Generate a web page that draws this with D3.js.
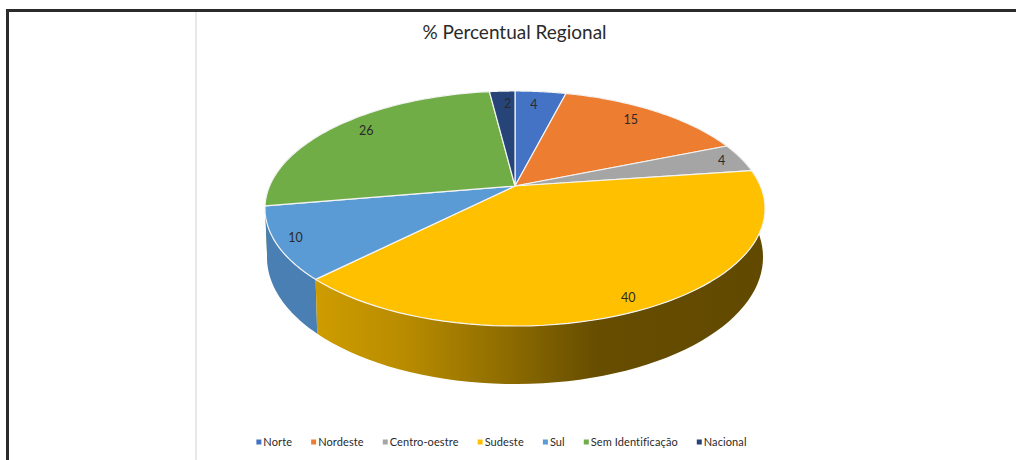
<!DOCTYPE html>
<html>
<head>
<meta charset="utf-8">
<script src="https://cdn.jsdelivr.net/npm/d3@7"></script>
<style>
  html, body { margin: 0; padding: 0; background: #fff; }
  svg { display: block; }
  text { font-family: Lato, sans-serif; fill: #2a2a2a; }
</style>
</head>
<body>
<svg id="chart" width="1016" height="460"></svg>
<script>
const regions = ["Norte", "Nordeste", "Centro-oestre", "Sudeste", "Sul", "Sem Identificação", "Nacional"];
const shares = [4, 15, 4, 40, 10, 26, 2];
const topColors = ["#4472C4", "#ED7D31", "#A5A5A5", "#FFC000", "#5B9BD5", "#70AD47", "#264478"];
const sideColors = ["#3a62a8", "#cc6b2a", "#8e8e8e", "url(#sudesteSide)", "#4a7fb3", "#609539", "#203a67"];
// Hand placement of each value label relative to its slice's mid-radius point
const labelNudge = [[-4, 4], [-10, 1], [7, 0], [-1, 7], [-12, 2], [9, -1], [4, 3]];

const svg = d3.select("#chart");

// Page frame and the faint sheet gridline
svg.append("rect").attr("x", 6).attr("y", 9).attr("width", 1010).attr("height", 3).attr("fill", "#2b2b2b");
svg.append("rect").attr("x", 6).attr("y", 9).attr("width", 3).attr("height", 451).attr("fill", "#2b2b2b");
svg.append("rect").attr("x", 195).attr("y", 12).attr("width", 2).attr("height", 448).attr("fill", "#e8e8e8");

svg.append("text").attr("x", 514.5).attr("y", 39).attr("text-anchor", "middle")
  .style("font-size", "19px").attr("fill", "#2f3440").text("% Percentual Regional");

// Tilted pie: a circle on a plane seen in perspective
const cx = 515, cy = 186, halfWidth = 245.4, halfDepth = 113.2, persp = 0.1915;
const thickness = 46.9, lowerScale = 0.992;

function project(angle, r, lower) {
  const u = Math.sin(angle) * r, v = Math.cos(angle) * r;
  const w = 1 + persp * v;
  const s = lower ? lowerScale : 1;
  return [cx + s * halfWidth * u / w, cy - halfDepth * v / w + (lower ? thickness / w : 0)];
}

const slices = d3.pie().sort(null).value(d => d)(shares);
const line = d3.line();
const arcSteps = (a, b) => d3.range(0, 61).map(i => a + (b - a) * i / 60);

const defs = svg.append("defs");
const grad = defs.append("linearGradient").attr("id", "sudesteSide")
  .attr("gradientUnits", "userSpaceOnUse").attr("x1", 313).attr("x2", 765).attr("y1", 0).attr("y2", 0);
[[0, "#cf9d00"], [0.2, "#b98c00"], [0.42, "#8f6d00"], [0.63, "#664d00"], [1, "#614900"]]
  .forEach(([o, c]) => grad.append("stop").attr("offset", o).attr("stop-color", c));

// Outer wall, drawn back to front
const sideOrder = [0, 1, 2, 6, 5, 4, 3];
svg.append("g").selectAll("path").data(sideOrder.map(i => ({ s: slices[i], i }))).join("path")
  .attr("d", ({ s }) => {
    const a = arcSteps(s.startAngle, s.endAngle);
    return line([...a.map(t => project(t, 1, false)), ...a.reverse().map(t => project(t, 1, true))]) + "Z";
  })
  .attr("fill", d => sideColors[d.i]);

// Top face
svg.append("g").selectAll("path").data(slices).join("path")
  .attr("d", s => line([[cx, cy], ...arcSteps(s.startAngle, s.endAngle).map(t => project(t, 1, false))]) + "Z")
  .attr("fill", (s, i) => topColors[i])
  .attr("stroke", "#f4f4f4").attr("stroke-width", 1.2).attr("stroke-linejoin", "round");

// Value labels
svg.append("g").selectAll("text").data(slices).join("text")
  .attr("x", (s, i) => project((s.startAngle + s.endAngle) / 2, 0.88, false)[0] + labelNudge[i][0])
  .attr("y", (s, i) => project((s.startAngle + s.endAngle) / 2, 0.88, false)[1] + 4 + labelNudge[i][1])
  .attr("text-anchor", "middle").style("font-size", "12.5px")
  .text(s => s.value);

// Legend, laid out left to right and centred under the pie
const legend = svg.append("g");
const items = legend.selectAll("g").data(regions).join("g");
items.append("rect").attr("width", 5).attr("height", 5).attr("y", -2.5)
  .attr("fill", (d, i) => topColors[i]);
items.append("text").attr("x", 7).attr("y", 4).style("font-size", "11px").style("letter-spacing", "0.1px")
  .text(d => d);
let pen = 0;
items.attr("transform", function () {
  const t = `translate(${pen},442)`;
  pen += this.getBBox().width + 19;
  return t;
});
legend.attr("transform", `translate(${501.5 - (pen - 19) / 2},0)`);
</script>
</body>
</html>
